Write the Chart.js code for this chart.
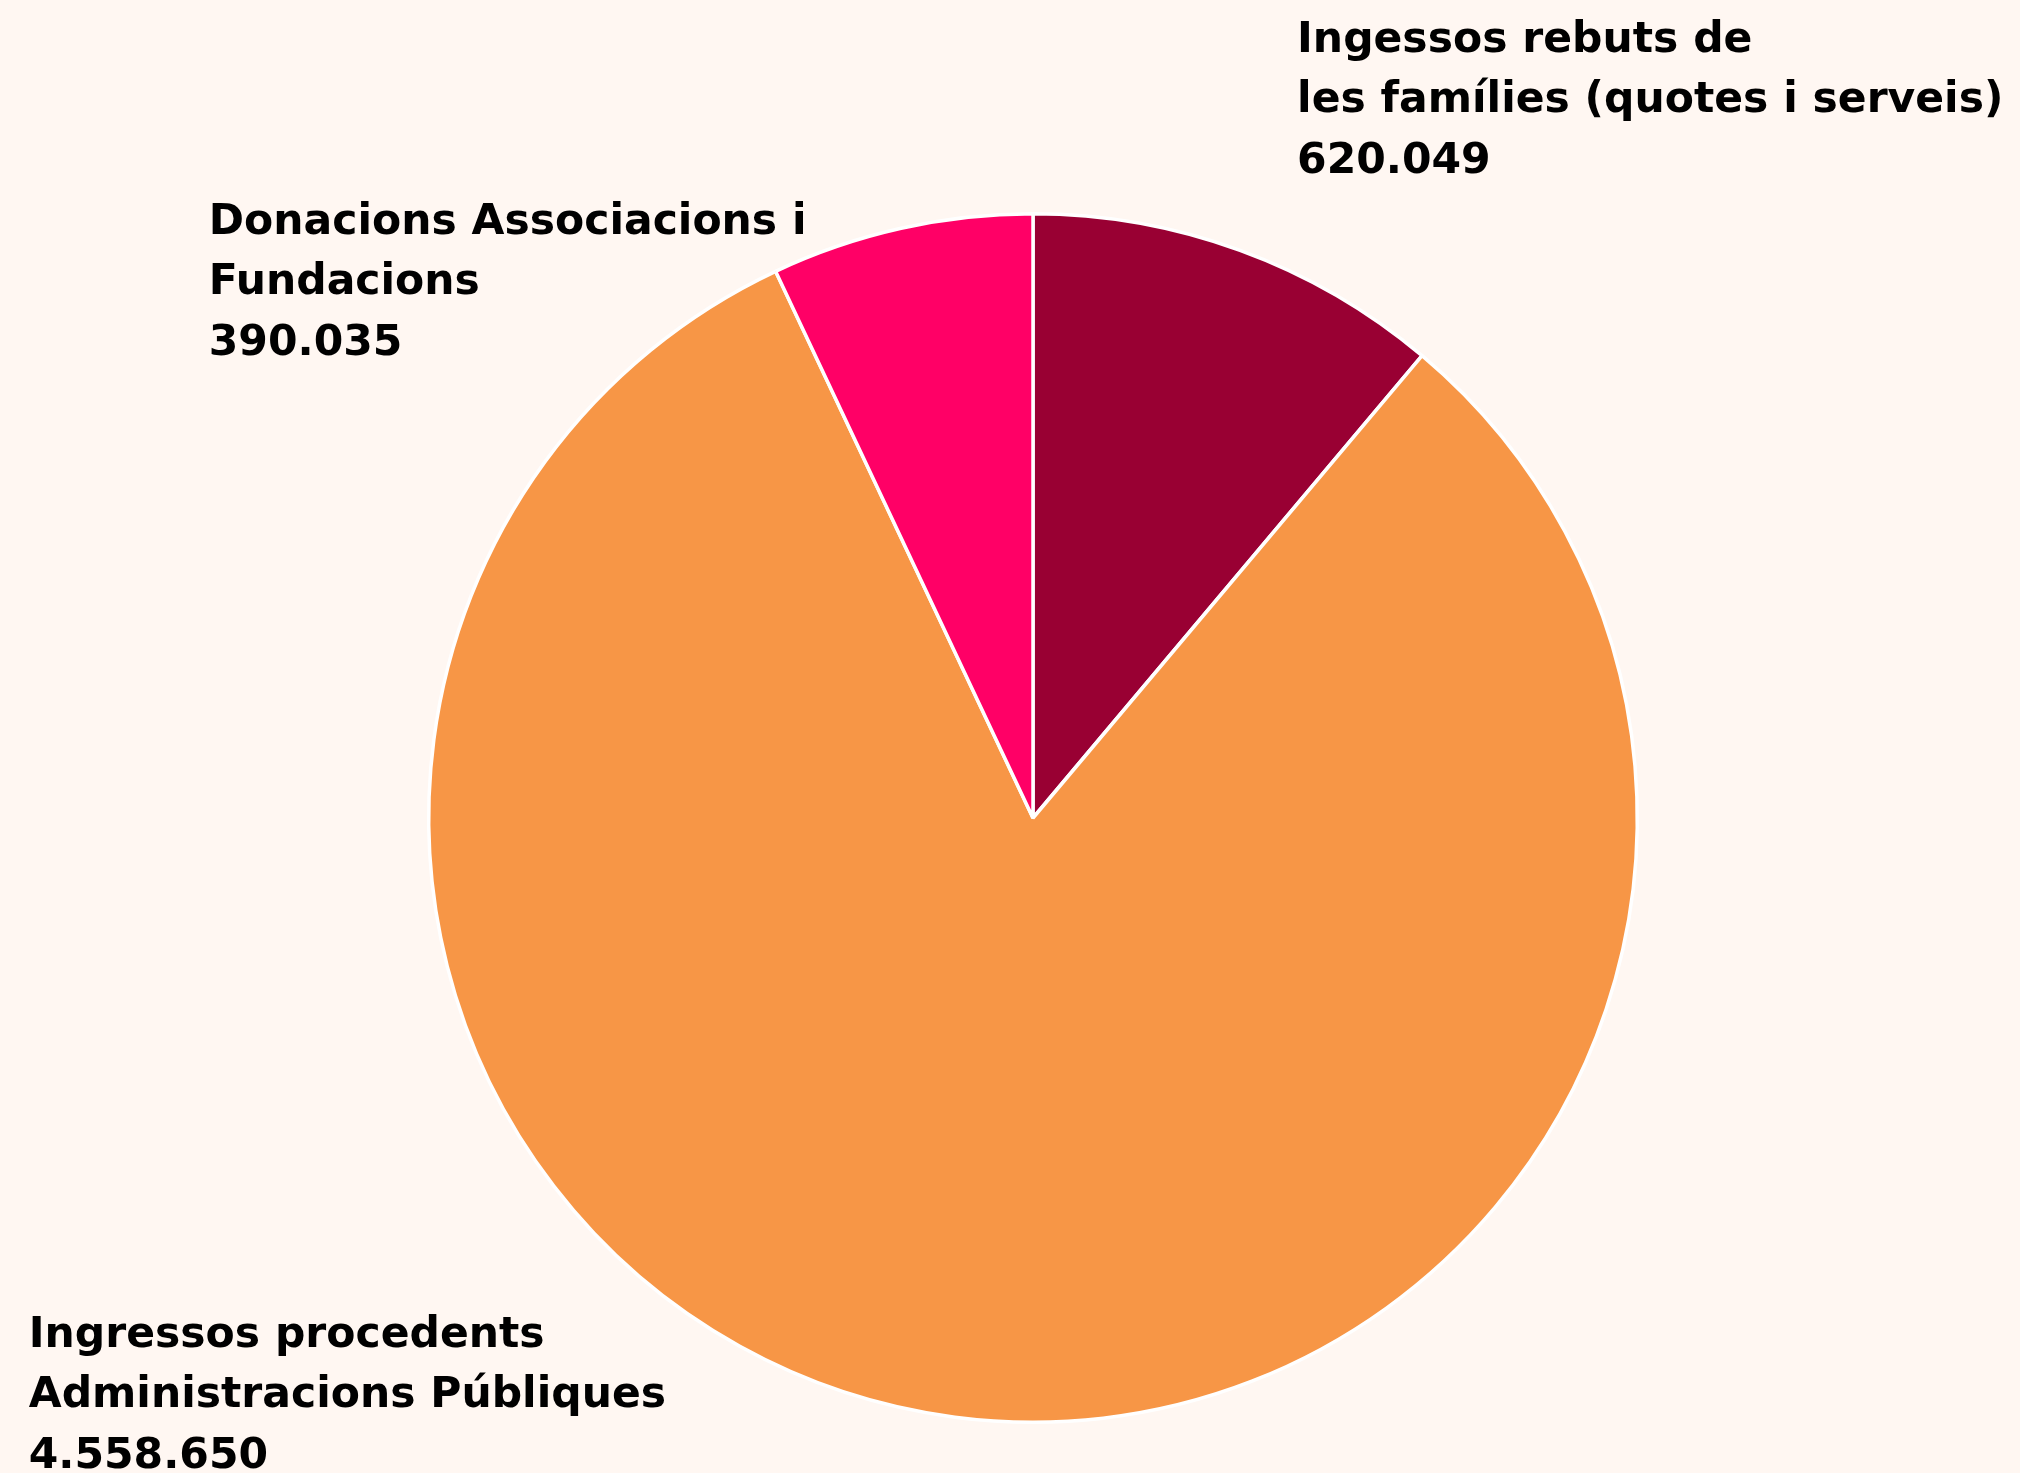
<!DOCTYPE html>
<html>
<head>
<meta charset="utf-8">
<script src="https://cdn.jsdelivr.net/npm/chart.js@4/dist/chart.umd.min.js"></script>
<style>
  html, body { margin: 0; padding: 0; background: #fff7f2; }
  #wrap { width: 2020px; height: 1473px; }
</style>
</head>
<body>
<div id="wrap"><canvas id="incomeChart" width="2020" height="1473"></canvas></div>
<script>
// data
const categories = [
    ['Ingessos rebuts de', 'les famílies (quotes i serveis)'],
    ['Ingressos procedents', 'Administracions Públiques'],
    ['Donacions Associacions i', 'Fundacions']
];
const values = [620049, 4558650, 390035];
const colors = ['#990033', '#f79646', '#ff0066'];

// where each label block sits, in units of the pie radius from the centre
const labelOffsets = [
    [0.437, -1.268],
    [-1.662, 0.875],
    [-1.364, -0.967]
];

function formatNumber(v) {
    return v.toString().replace(/\B(?=(\d{3})+(?!\d))/g, '.');
}

const bgPlugin = {
    id: 'bg',
    beforeDraw(chart) {
        const c = chart.ctx;
        c.save();
        c.fillStyle = '#fff7f2';
        c.fillRect(0, 0, chart.width, chart.height);
        c.restore();
    }
};

const labelPlugin = {
    id: 'sliceLabels',
    afterDraw(chart) {
        const c = chart.ctx;
        const meta = chart.getDatasetMeta(0);
        c.save();
        c.font = 'bold 42.5px "DejaVu Sans"';
        c.fillStyle = '#000';
        c.textAlign = 'left';
        c.textBaseline = 'alphabetic';
        meta.data.forEach((arc, i) => {
            const r = arc.outerRadius;
            const x = arc.x + labelOffsets[i][0] * r;
            let y = arc.y + labelOffsets[i][1] * r;
            const lines = categories[i].concat([formatNumber(values[i])]);
            lines.forEach(line => {
                c.fillText(line, x, y);
                y += 60.5;
            });
        });
        c.restore();
    }
};

const ctx = document.getElementById('incomeChart').getContext('2d');
const incomeChart = new Chart(ctx, {
    type: 'pie',
    data: {
        labels: categories,
        datasets: [{
            data: values,
            backgroundColor: colors,
            borderColor: '#ffffff',
            borderWidth: 3.5
        }]
    },
    options: {
        responsive: false,
        devicePixelRatio: 1,
        animation: false,
        layout: {
            padding: { top: 212, bottom: 49, left: 199, right: 153 }
        },
        plugins: {
            legend: { display: false },
            tooltip: { enabled: false }
        }
    },
    plugins: [bgPlugin, labelPlugin]
});
</script>
</body>
</html>
